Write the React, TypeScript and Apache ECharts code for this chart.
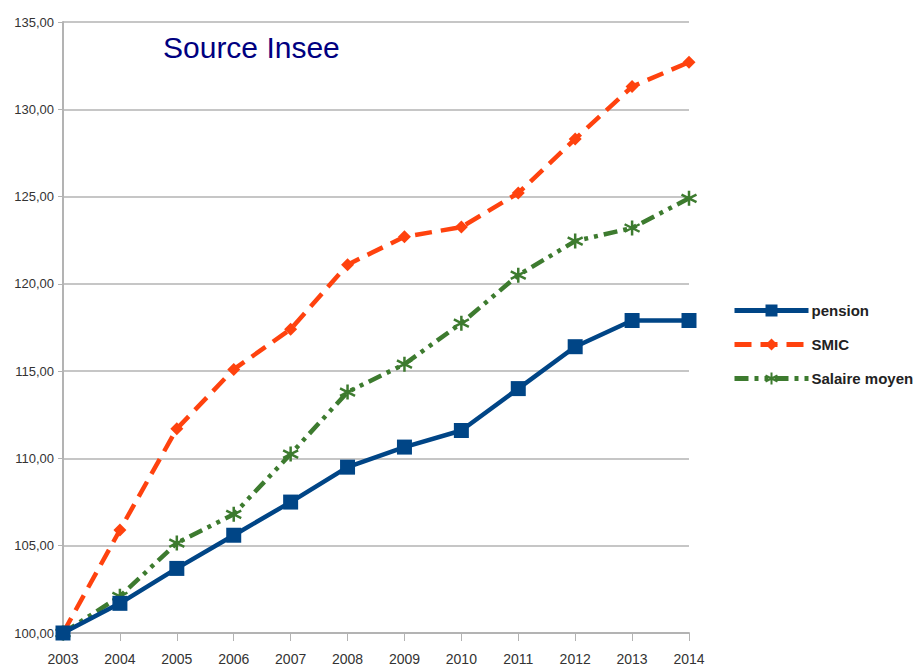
import React, { useEffect, useRef } from "react";
import * as echarts from "echarts";

const years = ["2003", "2004", "2005", "2006", "2007", "2008", "2009", "2010", "2011", "2012", "2013", "2014"];
const pension = [100, 101.7, 103.7, 105.6, 107.5, 109.5, 110.65, 111.6, 114.0, 116.4, 117.9, 117.9];
const smic = [100, 105.9, 111.7, 115.1, 117.4, 121.1, 122.7, 123.25, 125.2, 128.3, 131.3, 132.7];
const salaire = [100, 102.1, 105.15, 106.8, 110.25, 113.8, 115.4, 117.75, 120.5, 122.45, 123.2, 124.9];

const BLUE = "#004586";
const ORANGE = "#ff420e";
const GREEN = "#3d7b2f";
const STAR = "path://M0,-10L0,10M-8.7,-5L8.7,5M-8.7,5L8.7,-5";

export default function App() {
  const ref = useRef<HTMLDivElement>(null);
  useEffect(() => {
    const chart = echarts.init(ref.current!, null, { renderer: "svg" });
    chart.setOption({
      animation: false,
      backgroundColor: "#ffffff",
      textStyle: { fontFamily: "Liberation Sans, Arial, sans-serif" },
      title: {
        text: "Source Insee",
        left: 158,
        top: 27,
        textStyle: { color: "#000080", fontSize: 30, fontWeight: "normal", fontFamily: "Liberation Sans, Arial, sans-serif" },
      },
      legend: {
        orient: "vertical",
        left: 727,
        top: 298,
        itemWidth: 74,
        itemHeight: 15,
        itemGap: 19,
        lineStyle: { width: 5 },
        textStyle: { fontSize: 15, fontWeight: "bold", color: "#222", fontFamily: "Liberation Sans, Arial, sans-serif", padding: [0, 0, 0, -2] },
        data: ["pension", "SMIC", "Salaire moyen"],
      },
      grid: { left: 63, right: 231, top: 22, bottom: 36, containLabel: false },
      xAxis: {
        type: "category",
        data: years,
        boundaryGap: false,
        axisLine: { lineStyle: { color: "#b3b3b3", width: 2 } },
        axisTick: { show: true, length: 8, lineStyle: { color: "#b3b3b3" } },
        axisLabel: { color: "#333", fontSize: 14, margin: 19 },
        splitLine: { show: false },
      },
      yAxis: {
        type: "value",
        min: 100,
        max: 135,
        interval: 5,
        axisLine: { show: true, lineStyle: { color: "#b3b3b3", width: 2 } },
        axisTick: { show: true, length: 5, lineStyle: { color: "#b3b3b3" } },
        axisLabel: {
          color: "#333",
          fontSize: 13,
          margin: 9,
          formatter: (v: number) => v.toFixed(2).replace(".", ","),
        },
        splitLine: { show: true, lineStyle: { color: "#b3b3b3", width: 1.5 } },
      },
      series: [
        {
          name: "pension",
          type: "line",
          data: pension,
          symbol: "rect",
          symbolSize: 15,
          lineStyle: { color: BLUE, width: 4.5 },
          itemStyle: { color: BLUE },
          z: 3,
        },
        {
          name: "SMIC",
          type: "line",
          data: smic,
          symbol: "diamond",
          symbolSize: 13,
          lineStyle: { color: ORANGE, width: 4.5, type: [17, 9] },
          itemStyle: { color: ORANGE },
          z: 2,
        },
        {
          name: "Salaire moyen",
          type: "line",
          data: salaire,
          symbol: STAR,
          symbolSize: 15,
          lineStyle: { color: GREEN, width: 4.5, type: [14, 6, 4, 6, 4, 6] },
          itemStyle: { color: GREEN, borderColor: GREEN, borderWidth: 2.5 },
          z: 2,
        },
      ],
    });
    return () => chart.dispose();
  }, []);
  return <div ref={ref} style={{ width: 920, height: 669, position: "absolute", left: 0, top: 0 }} />;
}
